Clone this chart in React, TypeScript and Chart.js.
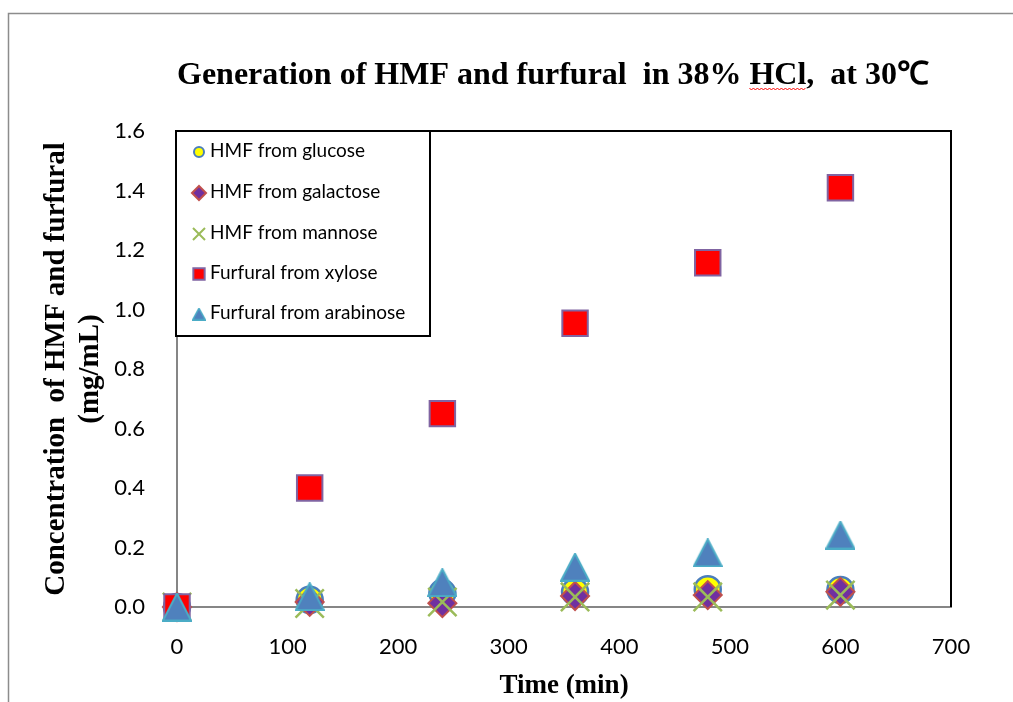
import { useEffect, useRef } from 'react';
import { Chart, registerables } from 'chart.js';
import { drawPoint } from 'chart.js/helpers';

Chart.register(...registerables);

// Sampling times (min)
const timeMin = [0, 120, 240, 360, 480, 600];

// Concentrations (mg/mL)
const hmfGlucose = [0, 0.024, 0.047, 0.051, 0.06, 0.057];
const hmfGalactose = [0, 0.017, 0.013, 0.037, 0.04, 0.051];
const hmfMannose = [0, 0.012, 0.017, 0.034, 0.034, 0.04];
const furfuralXylose = [0, 0.4, 0.65, 0.954, 1.157, 1.409];
const furfuralArabinose = [0, 0.035, 0.082, 0.134, 0.182, 0.242];

const seriesNames = [
  'HMF from glucose',
  'HMF from galactose',
  'HMF from mannose',
  'Furfural from xylose',
  'Furfural from arabinose',
];

const xTickValues = [0, 100, 200, 300, 400, 500, 600, 700];
const yTickValues = [0, 0.2, 0.4, 0.6, 0.8, 1.0, 1.2, 1.4, 1.6];

const chartTitle = 'Generation of HMF and furfural  in 38% HCl,  at 30\u2103';
const xTitle = 'Time (min)';
const yTitle = ['Concentration  of HMF and furfural', '(mg/mL)'];

const SANS = 'Lato, "Open Sans", sans-serif';
const SERIF = '"Liberation Serif", "Times New Roman", serif';

const toPoints = (ys: number[]) => timeMin.map((t, i) => ({ x: t, y: ys[i] }));

// Triangle marker centred on its bounding box (Chart.js' own triangle is
// centred on its circumcentre, which sits the mark a few pixels high).
function triangleMarker(w: number, h: number, fill: string, stroke: string, lw: number) {
  const c = document.createElement('canvas');
  c.width = Math.ceil(w);
  c.height = Math.ceil(h);
  const g = c.getContext('2d')!;
  const m = lw / 2;
  g.beginPath();
  g.moveTo(c.width / 2, m);
  g.lineTo(c.width - m, c.height - m);
  g.lineTo(m, c.height - m);
  g.closePath();
  g.fillStyle = fill;
  g.fill();
  g.lineWidth = lw;
  g.strokeStyle = stroke;
  g.lineJoin = 'miter';
  g.stroke();
  return c;
}

// legend marker sizes (smaller than the plotted markers)
const legendRadius: Record<string, number> = {
  circle: 5,
  rectRot: 7,
  crossRot: 8.5,
  rect: 8,
};

const decorPlugin = {
  id: 'decor',
  beforeDraw(chart: any) {
    const { ctx, width, height } = chart;
    ctx.save();
    ctx.fillStyle = '#ffffff';
    ctx.fillRect(0, 0, width, height);
    ctx.restore();
  },
  afterDraw(chart: any) {
    const { ctx, chartArea: a } = chart;
    ctx.save();

    // outer frame
    ctx.strokeStyle = '#8c8c8c';
    ctx.lineWidth = 1.5;
    ctx.beginPath();
    ctx.moveTo(8.5, chart.height);
    ctx.lineTo(8.5, 13.5);
    ctx.lineTo(chart.width, 13.5);
    ctx.stroke();

    // plot area top and right edges
    ctx.strokeStyle = '#000000';
    ctx.lineWidth = 2;
    ctx.beginPath();
    ctx.moveTo(a.left, a.top);
    ctx.lineTo(a.right, a.top);
    ctx.lineTo(a.right, a.bottom);
    ctx.stroke();

    // title
    ctx.font = `bold 32px ${SERIF}`;
    ctx.fillStyle = '#000000';
    ctx.textBaseline = 'alphabetic';
    ctx.textAlign = 'left';
    const tw = ctx.measureText(chartTitle).width;
    const tx = 553 - tw / 2;
    const ty = 84;
    ctx.fillText(chartTitle, tx, ty);
    // spell-check squiggle under "HCl"
    const hclStart = chartTitle.indexOf('HCl');
    const sx = tx + ctx.measureText(chartTitle.slice(0, hclStart)).width;
    const sw = ctx.measureText('HCl').width;
    ctx.strokeStyle = '#ff0000';
    ctx.lineWidth = 1;
    ctx.beginPath();
    for (let i = 0, x = sx; x <= sx + sw; i++, x += 2) {
      const y = ty + 4 + (i % 2 === 0 ? 0 : 2);
      if (i === 0) ctx.moveTo(x, y);
      else ctx.lineTo(x, y);
    }
    ctx.stroke();

    // legend box
    const lx = 176;
    const ly = a.top;
    const lw = 254;
    const lh = 205;
    ctx.fillStyle = '#ffffff';
    ctx.fillRect(lx, ly, lw, lh);
    ctx.strokeStyle = '#000000';
    ctx.lineWidth = 2;
    ctx.strokeRect(lx, ly, lw, lh);

    const rowY = [151, 192, 233, 273, 313];
    chart.data.datasets.forEach((ds: any, i: number) => {
      const y = rowY[i];
      ctx.save();
      ctx.fillStyle = ds.backgroundColor;
      ctx.strokeStyle = ds.borderColor;
      ctx.lineWidth = 2;
      const style = ds.legendStyle || ds.pointStyle;
      drawPoint(
        ctx,
        {
          pointStyle: style,
          radius: legendRadius[style as string] || 8,
          borderWidth: 2,
          rotation: 0,
        } as any,
        199,
        y + 1
      );
      ctx.restore();
      ctx.font = `19px ${SANS}`;
      ctx.fillStyle = '#000000';
      ctx.textBaseline = 'middle';
      ctx.textAlign = 'left';
      ctx.fillText(ds.label, 210, y);
    });

    ctx.restore();
  },
};

export default function App() {
  const canvasRef = useRef<HTMLCanvasElement | null>(null);

  useEffect(() => {
    const canvas = canvasRef.current;
    if (!canvas) return;

    const triBig = triangleMarker(30, 29, '#4f81bd', '#4bacc6', 2);
    const triSmall = triangleMarker(14, 13, '#4f81bd', '#4bacc6', 1.5);

    const chart = new Chart(canvas, {
      type: 'scatter',
      data: {
        datasets: [
          {
            label: seriesNames[0],
            data: toPoints(hmfGlucose),
            pointStyle: 'circle',
            pointRadius: 13,
            backgroundColor: '#ffff00',
            borderColor: '#4a7ebb',
            borderWidth: 2.5,
            order: 4,
            clip: false,
          },
          {
            label: seriesNames[1],
            data: toPoints(hmfGalactose),
            pointStyle: 'rectRot',
            pointRadius: 14,
            backgroundColor: '#7030a0',
            borderColor: '#c0504d',
            borderWidth: 2,
            order: 3,
            clip: false,
          },
          {
            label: seriesNames[2],
            data: toPoints(hmfMannose),
            pointStyle: 'crossRot',
            pointRadius: 20,
            backgroundColor: '#9bbb59',
            borderColor: '#9bbb59',
            borderWidth: 2.5,
            order: 2,
            clip: false,
          },
          {
            label: seriesNames[3],
            data: toPoints(furfuralXylose),
            pointStyle: 'rect',
            pointRadius: 18,
            backgroundColor: '#ff0000',
            borderColor: '#8064a2',
            borderWidth: 2,
            order: 1,
            clip: false,
          },
          {
            label: seriesNames[4],
            data: toPoints(furfuralArabinose),
            pointStyle: triBig,
            legendStyle: triSmall,
            pointRadius: 15,
            backgroundColor: '#4f81bd',
            borderColor: '#4bacc6',
            borderWidth: 2,
            order: 0,
            clip: false,
          },
        ] as any,
      },
      options: {
        animation: false,
        responsive: false,
        maintainAspectRatio: false,
        layout: { padding: { left: 10, right: 62, top: 131, bottom: 0 } },
        plugins: {
          legend: { display: false },
          title: { display: false },
          tooltip: { enabled: false },
        },
        scales: {
          x: {
            type: 'linear',
            min: 0,
            max: 700,
            afterBuildTicks: (scale: any) => {
              scale.ticks = xTickValues.map((v) => ({ value: v }));
            },
            afterFit: (scale: any) => {
              scale.height = 95;
            },
            grid: { display: false, drawTicks: false },
            border: { display: true, color: '#868686', width: 2 },
            ticks: {
              padding: 27,
              color: '#000000',
              font: { family: SANS, size: 22 },
              maxRotation: 0,
              callback: (v: any) => String(v),
            },
            title: {
              display: true,
              text: xTitle,
              color: '#000000',
              font: { family: SERIF, size: 27, weight: 'bold', lineHeight: 1.2 },
              padding: { top: 0, bottom: 0 },
            },
          },
          y: {
            type: 'linear',
            min: 0,
            max: 1.6,
            afterBuildTicks: (scale: any) => {
              scale.ticks = yTickValues.map((v) => ({ value: v }));
            },
            afterFit: (scale: any) => {
              scale.width = 167;
            },
            grid: { display: false, drawTicks: false },
            border: { display: true, color: '#868686', width: 2 },
            ticks: {
              padding: 32,
              color: '#000000',
              font: { family: SANS, size: 22 },
              callback: (v: any) => Number(v).toFixed(1),
            },
            title: {
              display: true,
              text: yTitle,
              color: '#000000',
              font: { family: SERIF, size: 29, weight: 'bold', lineHeight: 1.15 },
              padding: { top: 30, bottom: 0 },
            },
          },
        },
      } as any,
      plugins: [decorPlugin],
    });

    return () => chart.destroy();
  }, []);

  return (
    <div style={{ position: 'fixed', left: 0, top: 0, width: 1013, height: 702 }}>
      <canvas ref={canvasRef} width={1013} height={702} style={{ width: 1013, height: 702 }} />
    </div>
  );
}
